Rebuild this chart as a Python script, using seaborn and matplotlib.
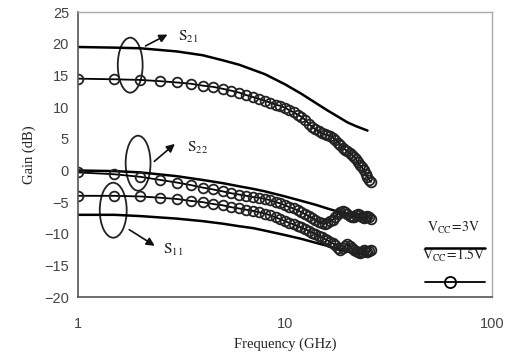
import matplotlib
matplotlib.use("Agg")
import matplotlib.pyplot as plt
from matplotlib.patches import Ellipse
from matplotlib.lines import Line2D
import seaborn as sns

# solid curves, Vcc = 3V
freq_3v = [1, 1.5, 2, 3, 4, 5, 6, 7, 8, 10, 12, 14, 16, 18, 20, 22, 25]
s21_3v = [19.5, 19.4, 19.3, 18.8, 18.2, 17.4, 16.7, 15.9, 15.2, 13.6, 12.1, 10.7, 9.5, 8.5, 7.6, 7.0, 6.3]
s22_3v = [0.0, -0.1, -0.3, -0.9, -1.5, -2.0, -2.5, -2.9, -3.3, -4.1, -4.8, -5.4, -6.0, -6.5, -6.9, -7.2, -7.6]
s11_3v = [-7.0, -7.0, -7.2, -7.6, -8.0, -8.4, -8.8, -9.1, -9.5, -10.2, -10.8, -11.4, -11.9, -12.4, -12.8, -13.1, -13.4]

# measured points, Vcc = 1.5V
freq_15v = [1.0, 1.5, 2.0, 2.5, 3.0, 3.5, 4.0, 4.5, 5.0, 5.5, 6.0, 6.5, 7.0, 7.5, 8.0, 8.5, 9.0,
            9.5, 10.0, 10.5, 11.0, 11.5, 12.0, 12.5, 13.0, 13.5, 14.0, 14.5, 15.0, 15.5, 16.0, 16.5,
            17.0, 17.5, 18.0, 18.5, 19.0, 19.5, 20.0, 20.5, 21.0, 21.5, 22.0, 22.5, 23.0, 23.5, 24.0,
            24.5, 25.0, 25.5, 26.0]
s21_15v = [14.5, 14.4, 14.3, 14.1, 13.9, 13.7, 13.4, 13.2, 12.9, 12.6, 12.3, 11.9, 11.6, 11.3, 11.0,
           10.7, 10.4, 10.2, 9.9, 9.5, 9.2, 8.8, 8.5, 8.0, 7.4, 6.9, 6.5, 6.2, 5.9, 5.7, 5.6, 5.5,
           5.2, 4.8, 4.4, 4.0, 3.6, 3.3, 3.0, 2.8, 2.5, 2.2, 1.8, 1.3, 0.8, 0.5, 0.1, -0.5, -1.0,
           -1.5, -1.8]
s22_15v = [-0.3, -0.6, -1.0, -1.5, -1.9, -2.3, -2.7, -3.0, -3.3, -3.6, -3.8, -4.0, -4.2, -4.3, -4.5,
           -4.7, -5.0, -5.2, -5.5, -5.8, -6.0, -6.3, -6.6, -6.9, -7.2, -7.5, -7.8, -8.1, -8.3, -8.4,
           -8.3, -8.0, -7.8, -7.3, -6.9, -6.5, -6.4, -6.6, -6.9, -7.2, -7.4, -7.3, -7.0, -6.8, -7.0,
           -7.3, -7.5, -7.4, -7.2, -7.3, -7.6]
s11_15v = [-4.0, -4.0, -4.1, -4.3, -4.5, -4.8, -5.0, -5.3, -5.5, -5.8, -6.0, -6.2, -6.4, -6.6, -6.8,
           -7.1, -7.4, -7.7, -8.0, -8.3, -8.5, -8.8, -9.0, -9.3, -9.5, -9.8, -10.0, -10.3, -10.5,
           -10.8, -11.0, -11.3, -11.5, -11.8, -12.2, -12.5, -12.3, -11.9, -11.6, -11.9, -12.3,
           -12.6, -12.7, -12.9, -13.0, -12.8, -12.6, -12.7, -12.9, -12.7, -12.5]

x_ticks = [1, 10, 100]
x_ticklabels = ["1", "10", "100"]
y_ticks = [-20, -15, -10, -5, 0, 5, 10, 15, 20, 25]

sns.set_style("white")
plt.rcParams["mathtext.fontset"] = "stix"

fig = plt.figure(figsize=(5.10, 3.58), dpi=100)
ax = fig.add_axes([0.153, 0.170, 0.812, 0.796])

for ys in [s21_3v, s22_3v, s11_3v]:
    sns.lineplot(x=freq_3v, y=ys, color="black", linewidth=1.8, ax=ax)

for ys in [s21_15v, s22_15v, s11_15v]:
    sns.lineplot(x=freq_15v, y=ys, color="black", linewidth=1.3, marker="o",
                 markersize=7, markerfacecolor="none", markeredgecolor="#222222",
                 markeredgewidth=1.3, ax=ax)

ax.set_xscale("log")
ax.set_xlim(1, 100)
ax.set_ylim(-20, 25)
ax.set_xticks(x_ticks)
ax.set_xticklabels(x_ticklabels)
ax.minorticks_off()
ax.set_yticks(y_ticks)
ax.tick_params(axis="both", labelsize=10.5, labelcolor="#444444", length=3,
               color="#555555", direction="out")
for lbl in ax.get_xticklabels() + ax.get_yticklabels():
    lbl.set_family("Liberation Sans")
ax.tick_params(axis="x", pad=11)

for side in ["left", "bottom"]:
    ax.spines[side].set_color("#555555")
    ax.spines[side].set_linewidth(1.2)
for side in ["top", "right"]:
    ax.spines[side].set_color("#aaaaaa")
    ax.spines[side].set_linewidth(1.0)

ax.set_xlabel("Frequency (GHz)", family="Liberation Serif", fontsize=10.5, color="#222222", labelpad=5)
ax.set_ylabel("Gain (dB)", family="Liberation Serif", fontsize=10.5, color="#222222", labelpad=6)

# ellipses, arrows and S-parameter labels
groups = [
    ((0.126, 0.814), 0.060, r"$\mathrm{S}_{21}$", (0.157, 0.877), (0.222, 0.926), (0.242, 0.912)),
    ((0.145, 0.470), 0.060, r"$\mathrm{S}_{22}$", (0.179, 0.470), (0.239, 0.544), (0.263, 0.523)),
    ((0.085, 0.305), 0.065, r"$\mathrm{S}_{11}$", (0.118, 0.242), (0.191, 0.175), (0.205, 0.165)),
]
for center, w, text, start, end, lpos in groups:
    ax.add_patch(Ellipse(center, w, 0.193, transform=ax.transAxes, fill=False,
                         edgecolor="#222222", linewidth=1.3))
    ax.annotate("", xy=end, xytext=start, xycoords="axes fraction",
                arrowprops=dict(arrowstyle="-|>", color="#111111", lw=1.2, mutation_scale=12))
    ax.text(lpos[0], lpos[1], text, transform=ax.transAxes, fontsize=11,
            ha="left", va="center", color="#222222")

# hand-drawn style legend
ax.text(0.906, 0.242, r"$\mathrm{V_{CC}\!=\!3V}$", transform=ax.transAxes, fontsize=10,
        ha="center", va="center", color="#222222")
ax.add_line(Line2D([0.838, 0.983], [0.172, 0.172], transform=ax.transAxes,
                   color="black", linewidth=1.8))
ax.text(0.906, 0.147, r"$\mathrm{V_{CC}\!=\!1.5V}$", transform=ax.transAxes, fontsize=10,
        ha="center", va="center", color="#222222")
ax.add_line(Line2D([0.838, 0.983], [0.053, 0.053], transform=ax.transAxes,
                   color="black", linewidth=1.3))
ax.add_line(Line2D([0.899], [0.053], transform=ax.transAxes, marker="o", markersize=8,
                   markerfacecolor="none", markeredgecolor="black", markeredgewidth=1.3))

fig.savefig("out.png", dpi=100)
